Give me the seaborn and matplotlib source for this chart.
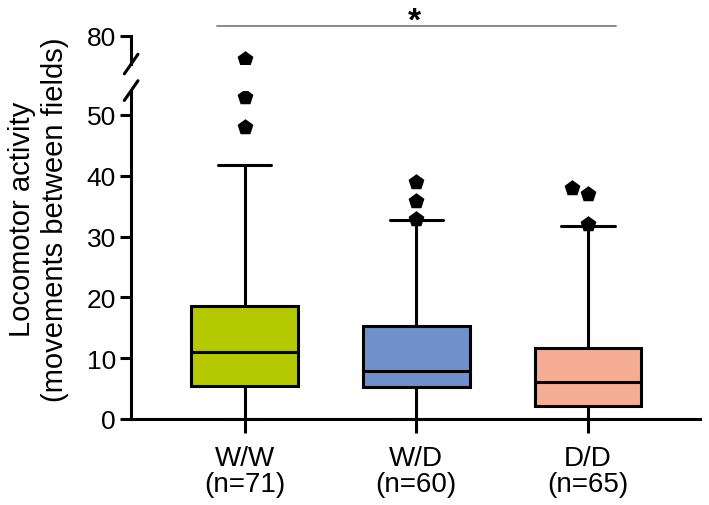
import pandas as pd
import seaborn as sns
import matplotlib.pyplot as plt

groups = ["W/W", "W/D", "D/D"]
n_labels = ["(n=71)", "(n=60)", "(n=65)"]
whisker_low = [0.0, 0.0, 0.0]
q1 = [5.4, 5.3, 2.1]
median = [11.0, 7.9, 6.1]
q3 = [18.6, 15.3, 11.7]
whisker_high = [41.8, 32.7, 31.8]
outliers_ww = [70.0, 53.0, 48.0]
outliers_wd = [39.0, 35.9, 32.9]
outliers_dd = [38.0, 37.0, 32.1]
colors = ["#b4c900", "#7090cb", "#f5ad94"]

sns.set_style("ticks", {"axes.edgecolor": "black", "text.color": "black",
                        "xtick.color": "black", "ytick.color": "black",
                        "axes.labelcolor": "black"})
plt.rcParams["font.family"] = ["Liberation Sans", "DejaVu Sans"]

# five-number summaries -> long table for the boxes
rows = []
for i, g in enumerate(groups):
    for v in [whisker_low[i], q1[i], median[i], q3[i], whisker_high[i]]:
        rows.append({"group": g, "value": v})
box_df = pd.DataFrame(rows)

out_rows = []
for g, vals in zip(groups, [outliers_ww, outliers_wd, outliers_dd]):
    for v in vals:
        out_rows.append({"group": g, "value": v})
out_df = pd.DataFrame(out_rows)

fig = plt.figure(figsize=(7.09, 5.06), dpi=100)
ax = fig.add_axes([0.185, 0.170, 0.802, 0.649])
ax_top = fig.add_axes([0.185, 0.8715, 0.802, 0.0554])

lw = 2.2
sns.boxplot(data=box_df, x="group", y="value", order=groups, hue="group",
            palette=colors, saturation=1, width=0.62, whis=(0, 100),
            linecolor="black", linewidth=lw, legend=False, ax=ax)
for a in (ax, ax_top):
    sns.swarmplot(data=out_df, x="group", y="value", order=groups,
                  color="black", marker="p", size=12, ax=a)

ax.set_ylim(0, 54)
ax.set_xlim(-0.66, 2.65)
ax.set_yticks([0, 10, 20, 30, 40, 50])
ax.set_xticks(range(3))
ax.set_xticklabels([f"{g}\n{n}" for g, n in zip(groups, n_labels)],
                   fontsize=20, linespacing=1.0)
ax.tick_params(axis="y", labelsize=19, length=8, width=2.2, pad=3)
ax.tick_params(axis="x", length=10, width=2.2, pad=9)
ax.set_xlabel("")
ax.set_ylabel("Locomotor activity\n(movements between fields)", fontsize=21,
              linespacing=1.2)
ax.yaxis.set_label_coords(-0.11, 0.61)
sns.despine(ax=ax)
for s in ("left", "bottom"):
    ax.spines[s].set_linewidth(2.2)

ax_top.set_ylim(68, 80)
ax_top.set_xlim(-0.66, 2.65)
ax_top.set_yticks([80])
ax_top.tick_params(axis="y", labelsize=19, length=8, width=2.2, pad=3)
ax_top.set_xticks([])
ax_top.set_xlabel("")
ax_top.set_ylabel("")
sns.despine(ax=ax_top, bottom=True)
ax_top.spines["left"].set_linewidth(2.2)
ax_top.patch.set_alpha(0)

# axis break slashes
ax_top.plot([-0.012, 0.012], [-0.35, 0.35], transform=ax_top.transAxes,
            color="black", lw=2.2, clip_on=False)
ax.plot([-0.012, 0.012], [0.97, 1.03], transform=ax.transAxes,
        color="black", lw=2.2, clip_on=False)

# significance bar
ax_top.plot([-0.16, 2.16], [84.3, 84.3], color="#808080", lw=1.3, clip_on=False)
ax_top.text(0.99, 82.6, "*", ha="center", va="baseline", fontsize=24,
            fontweight="bold", clip_on=False)

fig.savefig("out.png", dpi=100)
